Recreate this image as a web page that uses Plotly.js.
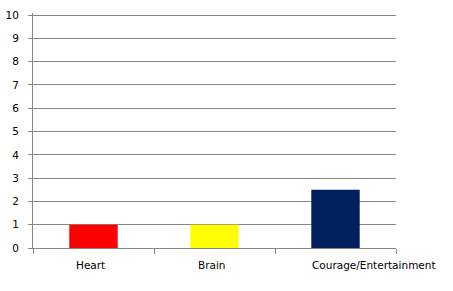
<!DOCTYPE html>
<html><head><meta charset="utf-8">
<script src="https://cdn.plot.ly/plotly-3.0.1.min.js"></script>
<style>html,body{margin:0;padding:0;background:#fff}</style>
</head><body>
<div id="chart" style="width:453px;height:291px"></div>
<script>
const categories = ["Heart", "Brain", "Courage/Entertainment"];
const values = [1, 1, 2.5];
const barColors = ["#FF0000", "#FFFF00", "#002060"];
const yTicks = [0,1,2,3,4,5,6,7,8,9,10];

// small horizontal nudges for the category labels, as in the original image
const labelNudge = {"Heart": -3, "Brain": -3, "Courage/Entertainment": 38};

Plotly.newPlot("chart", [{
  type: "bar",
  x: categories,
  y: values,
  marker: {color: barColors},
  hoverinfo: "none"
}], {
  width: 453, height: 291,
  margin: {l: 33, r: 57, t: 13, b: 43, pad: 0},
  paper_bgcolor: "#fff", plot_bgcolor: "#fff",
  bargap: 0.6,
  showlegend: false,
  font: {family: "DejaVu Sans", size: 10.5, color: "#000"},
  xaxis: {
    type: "category", autorange: false, range: [-0.5, categories.length - 0.5],
    showline: true, linecolor: "#868686", linewidth: 1,
    ticks: "outside", tickson: "boundaries", ticklen: 5, tickcolor: "#868686",
    showgrid: false, zeroline: false, showticklabels: false
  },
  yaxis: {
    autorange: false, range: [0, 10.09], tickvals: yTicks, ticktext: yTicks.map(String),
    showline: true, linecolor: "#868686", linewidth: 1,
    ticks: "outside", ticklen: 4, tickcolor: "#868686",
    showgrid: true, gridcolor: "#868686", gridwidth: 1,
    zeroline: false, ticklabelstandoff: 7,
    tickfont: {family: "DejaVu Sans", size: 10.5}
  },
  annotations: categories.map(c => ({
    x: c, xref: "x", y: 0, yref: "paper",
    yanchor: "top", xanchor: "center", yshift: -9, xshift: labelNudge[c],
    text: c, showarrow: false,
    font: {family: "DejaVu Sans", size: 10.5, color: "#000"}
  }))
}, {staticPlot: true});
</script>
</body></html>
